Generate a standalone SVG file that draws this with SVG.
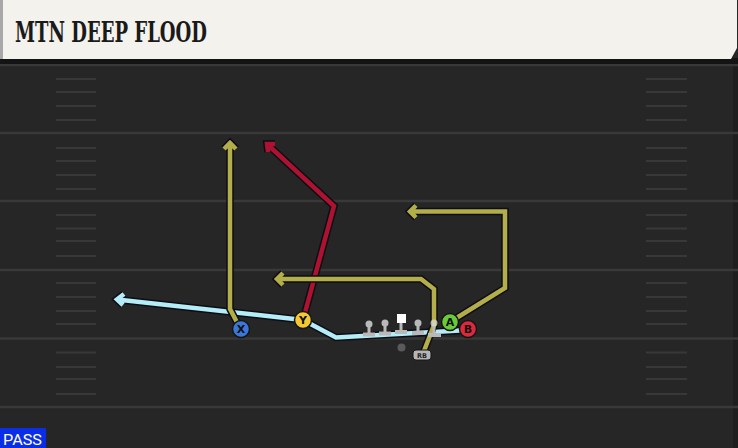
<svg xmlns="http://www.w3.org/2000/svg" width="738" height="448" viewBox="0 0 738 448">
<defs>
<style>
.yl{stroke:#393939;stroke-width:2.5}
.hs{stroke:#383838;stroke-width:2}
.ol{fill:none;stroke:#0d0d14;stroke-width:7.5;stroke-linejoin:miter;stroke-linecap:butt}
.rt{fill:none;stroke-width:4.5;stroke-linejoin:miter;stroke-linecap:butt}
.ylw{stroke:#b3ae4a}
.red{stroke:#ad1230}
.blu{stroke:#b4ecf8}
.pl{stroke:#151515;stroke-width:1.5}
.lt{font-family:"DejaVu Sans","Liberation Sans",sans-serif;font-weight:bold;font-size:11px;fill:#111;text-anchor:middle}
.ln{fill:#b9b9b9}
</style>
</defs>
<rect x="0" y="0" width="738" height="448" fill="#262626"/>
<rect x="733" y="60" width="5" height="388" fill="#1e1e1e"/>
<g id="field">
<line class="yl" x1="0" y1="65" x2="738" y2="65"/>
<line class="yl" x1="0" y1="133" x2="738" y2="133"/>
<line class="yl" x1="0" y1="201" x2="738" y2="201"/>
<line class="yl" x1="0" y1="270" x2="738" y2="270"/>
<line class="yl" x1="0" y1="338.5" x2="738" y2="338.5"/>
<line class="yl" x1="0" y1="407" x2="738" y2="407"/>
<g class="hs">
<path d="M56 79H96M56 92H96M56 106H96M56 120H96M56 148H96M56 161H96M56 175H96M56 189H96M56 215H96M56 228.5H96M56 241H96M56 256H96M56 283H96M56 297H96M56 311H96M56 324H96M56 352.5H96M56 367H96M56 379H96M56 394H96"/>
<path d="M646 79H687M646 92H687M646 106H687M646 120H687M646 148H687M646 161H687M646 175H687M646 189H687M646 215H687M646 228.5H687M646 241H687M646 256H687M646 283H687M646 297H687M646 311H687M646 324H687M646 352.5H687M646 367H687M646 379H687M646 394H687"/>
</g>
</g>
<g id="header">
<rect x="0" y="58" width="738" height="6" fill="#141414"/>
<path d="M0 0H737V48L731 59H0Z" fill="#f4f2ec"/>
<rect x="0" y="0" width="3" height="59" fill="#a8a8a8"/>
<text x="15" y="42" font-family="'DejaVu Serif',serif" font-weight="bold" font-size="28" fill="#1a1a1a" textLength="192" lengthAdjust="spacingAndGlyphs">MTN DEEP FLOOD</text>
</g>
<g id="connectors">
<g id="route-blue">
<path class="ol" d="M460 330.5L336 337.5L303 320L117 299.5M124 294L117 299.5L123 305"/>
<path class="rt blu" d="M460 330.5L336 337.5L303 320L117 299.5M124 294L117 299.5L123 305"/>
</g>
<g id="route-x">
<path class="ol" d="M240 328L230 309V143M224 149L230 143L236 149"/>
<path class="rt ylw" d="M240 328L230 309V143M224 149L230 143L236 149"/>
</g>
<g id="route-y">
<path class="ol" d="M303 320L334 206L267 144M268 152L267 144L275 144"/>
<path class="rt red" d="M303 320L334 206L267 144M268 152L267 144L275 144"/>
</g>
<g id="route-rb">
<path class="ol" d="M424 351L434 325V289L421 279H277M283 273L277 279L283 285"/>
<path class="rt ylw" d="M424 351L434 325V289L421 279H277M283 273L277 279L283 285"/>
</g>
<g id="route-a">
<path class="ol" d="M450 322L505 288V211.5H410M416 205.5L410 211.5L416 217.5"/>
<path class="rt ylw" d="M450 322L505 288V211.5H410M416 205.5L410 211.5L416 217.5"/>
</g>
</g>
<g id="line">
<g class="ln">
<circle cx="369" cy="324" r="3.5"/><rect x="367.5" y="324" width="3" height="10"/><rect x="363" y="332.5" width="12" height="4"/>
<circle cx="385" cy="323" r="3.5"/><rect x="383.5" y="323" width="3" height="10"/><rect x="379" y="331.5" width="12" height="4"/>
<rect x="399.5" y="321" width="3" height="10"/><rect x="395" y="330" width="12" height="4"/>
<circle cx="418" cy="323" r="3.5"/><rect x="416.5" y="323" width="3" height="10"/><rect x="412" y="331" width="12" height="4"/>
<rect x="428" y="333" width="13" height="4"/><rect x="432.5" y="323" width="3" height="11"/>
</g>
<circle cx="434" cy="323" r="3.5" fill="#d8d8c8" opacity="0.8"/>
</g>
<g id="C"><rect x="397" y="314" width="9" height="9" fill="#ffffff"/></g>
<g id="QB"><circle cx="401.5" cy="347.5" r="4" fill="#5a5a5a"/></g>
<g id="RB"><rect x="413" y="350" width="18" height="10" rx="3" fill="#b5b5b5" stroke="#151515"/><text x="422" y="358" font-family="'DejaVu Sans',sans-serif" font-weight="bold" font-size="6.5" fill="#222" text-anchor="middle">RB</text></g>
<g id="X"><circle class="pl" cx="241" cy="329" r="8.5" fill="#3b77d6"/><text class="lt" x="241" y="333">X</text></g>
<g id="Y"><circle class="pl" cx="303" cy="320" r="8.5" fill="#f3c832"/><text class="lt" x="303" y="324">Y</text></g>
<g id="A"><circle class="pl" cx="450" cy="322" r="8.5" fill="#6acb38"/><text class="lt" x="450" y="326">A</text></g>
<g id="B"><circle class="pl" cx="468" cy="329" r="8.5" fill="#e0283c"/><text class="lt" x="468" y="333" fill="#111">B</text></g>
<g id="pass">
<rect x="0" y="428" width="46" height="20" fill="#0a2ee8"/>
<text x="3" y="444.5" font-family="Roboto,'Liberation Sans',sans-serif" font-size="15" fill="#ffffff" textLength="39" lengthAdjust="spacingAndGlyphs">PASS</text>
</g>
</svg>
